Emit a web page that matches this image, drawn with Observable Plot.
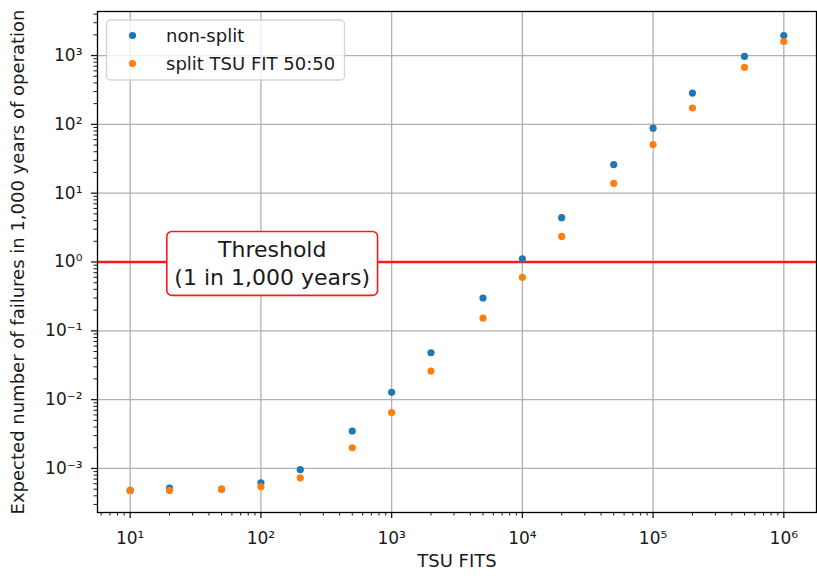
<!DOCTYPE html>
<html><head><meta charset="utf-8">
<script src="https://cdn.jsdelivr.net/npm/d3@7"></script>
<script src="https://cdn.jsdelivr.net/npm/@observablehq/plot@0.6"></script>
<style>
body{margin:0;background:#fff;}
#chart{width:817px;height:579px;}
</style>
</head><body><div id="chart"></div>
<script>
// ---- data ----
const xFits = [10, 20, 50, 100, 200, 500, 1000, 2000, 5000, 10000, 20000, 50000, 100000, 200000, 500000, 1000000];
const nonSplit = [4.8e-4, 5.2e-4, 5.0e-4, 6.2e-4, 9.6e-4, 3.5e-3, 1.28e-2, 4.8e-2, 0.30, 1.11, 4.4, 26, 88, 285, 970, 1950];
const split = [4.8e-4, 4.8e-4, 5.0e-4, 5.4e-4, 7.3e-4, 2.0e-3, 6.5e-3, 2.6e-2, 0.153, 0.60, 2.35, 13.9, 51, 173, 675, 1600];
const seriesNames = ["non-split", "split TSU FIT 50:50"];
const seriesColors = ["#1f77b4", "#ff7f0e"];
const xMajor = [1e1, 1e2, 1e3, 1e4, 1e5, 1e6];
const yMajor = [1e-3, 1e-2, 1e-1, 1e0, 1e1, 1e2, 1e3];
const threshold = 1;
const thresholdLabel = {x: 122, y: 1, text: "Threshold\n(1 in 1,000 years)"};
const xLabel = "TSU FITS";
const yLabel = "Expected number of failures in 1,000 years of operation";

const xDomain = [10 ** 0.75, 10 ** 6.25];
const yDomain = [10 ** -3.64, 10 ** 3.64];

// minor log ticks derived from the major decades, kept inside the domain
const minorOf = (majors, [lo, hi]) => [majors[0] / 10, ...majors]
  .flatMap(m => [2,3,4,5,6,7,8,9].map(k => k * m))
  .filter(v => v >= lo && v <= hi);
const xMinor = minorOf(xMajor, xDomain);
const yMinor = minorOf(yMajor, yDomain);

const supMap = {"0":"⁰","1":"¹","2":"²","3":"³","4":"⁴","5":"⁵","6":"⁶","7":"⁷","8":"⁸","9":"⁹","-":"⁻"};
const sup = d => "10" + String(Math.round(Math.log10(d))).split("").map(c => supMap[c]).join("");

const data = [
  ...xFits.map((x, i) => ({fits: x, value: nonSplit[i], series: seriesNames[0]})),
  ...xFits.map((x, i) => ({fits: x, value: split[i], series: seriesNames[1]}))
];

const ink = "#1a1a1a";
const plot = Plot.plot({
  width: 817, height: 579,
  marginLeft: 97, marginRight: 1, marginTop: 11, marginBottom: 67,
  style: {fontFamily: "DejaVu Sans", fontSize: "17px", color: ink, background: "white"},
  x: {type: "log", domain: xDomain},
  y: {type: "log", domain: yDomain},
  color: {domain: seriesNames, range: seriesColors},
  marks: [
    Plot.gridX({ticks: xMajor, stroke: "#b0b0b0", strokeOpacity: 1, strokeWidth: 1.3}),
    Plot.gridY({ticks: yMajor, stroke: "#b0b0b0", strokeOpacity: 1, strokeWidth: 1.3}),
    Plot.axisX({ticks: xMinor, tickSize: 3.5, tickFormat: () => "", label: null, strokeWidth: 1}),
    Plot.axisX({ticks: xMajor, tickSize: 6, tickPadding: 13, tickFormat: sup, label: null, fontSize: 17, strokeWidth: 1.3}),
    Plot.axisY({ticks: yMinor, tickSize: 3.5, tickFormat: () => "", label: null, strokeWidth: 1}),
    Plot.axisY({ticks: yMajor, tickSize: 6, tickPadding: 9, tickFormat: sup, label: null, fontSize: 17, strokeWidth: 1.3}),
    Plot.ruleY([threshold], {stroke: "#ff1a1a", strokeWidth: 2.7}),
    Plot.dot(data, {x: "fits", y: "value", fill: "series", r: 3.6}),
    Plot.text([thresholdLabel], {x: "x", y: "y", text: "text", fontSize: 22, lineHeight: 1.27, fill: ink}),
    Plot.frame({stroke: "black", strokeWidth: 1.3}),
    Plot.text([xLabel], {frameAnchor: "bottom", text: d => d, dy: 54, fontSize: 18, fill: ink}),
    Plot.text([yLabel], {frameAnchor: "left", textAnchor: "middle", text: d => d, dx: -79, rotate: -90, fontSize: 18, fill: ink})
  ]
});
document.getElementById("chart").appendChild(plot);

// rounded box behind the threshold label
const labelText = Array.from(plot.querySelectorAll("text")).find(t => t.textContent.includes("Threshold"));
if (labelText) {
  const bb = labelText.getBBox();
  const tr = labelText.getAttribute("transform") || "";
  const padX = 7.5, padY = 5.5;
  const rect = document.createElementNS("http://www.w3.org/2000/svg", "rect");
  rect.setAttribute("x", bb.x - padX);
  rect.setAttribute("y", bb.y - padY);
  rect.setAttribute("width", bb.width + 2 * padX);
  rect.setAttribute("height", bb.height + 2 * padY);
  rect.setAttribute("rx", 5);
  rect.setAttribute("fill", "white");
  rect.setAttribute("stroke", "#ff1a1a");
  rect.setAttribute("stroke-width", 1.6);
  if (tr) rect.setAttribute("transform", tr);
  labelText.parentNode.insertBefore(rect, labelText);
}

// legend inside the plot (upper left)
const L = d3.select(plot).append("g").attr("font-family", "DejaVu Sans").attr("text-anchor", "start");
L.append("rect").attr("x", 106.5).attr("y", 20).attr("width", 238).attr("height", 60)
  .attr("rx", 4).attr("fill", "white").attr("fill-opacity", 0.8)
  .attr("stroke", "#d4d4d4").attr("stroke-width", 1.3);
seriesNames.forEach((name, i) => {
  const cy = 35.5 + i * 28;
  L.append("circle").attr("cx", 132.5).attr("cy", cy).attr("r", 3.6).attr("fill", seriesColors[i]);
  L.append("text").attr("x", 166).attr("y", cy).attr("dy", "0.35em").attr("text-anchor", "start")
    .attr("font-size", 18).attr("fill", ink).text(name);
});
</script>
</body></html>
